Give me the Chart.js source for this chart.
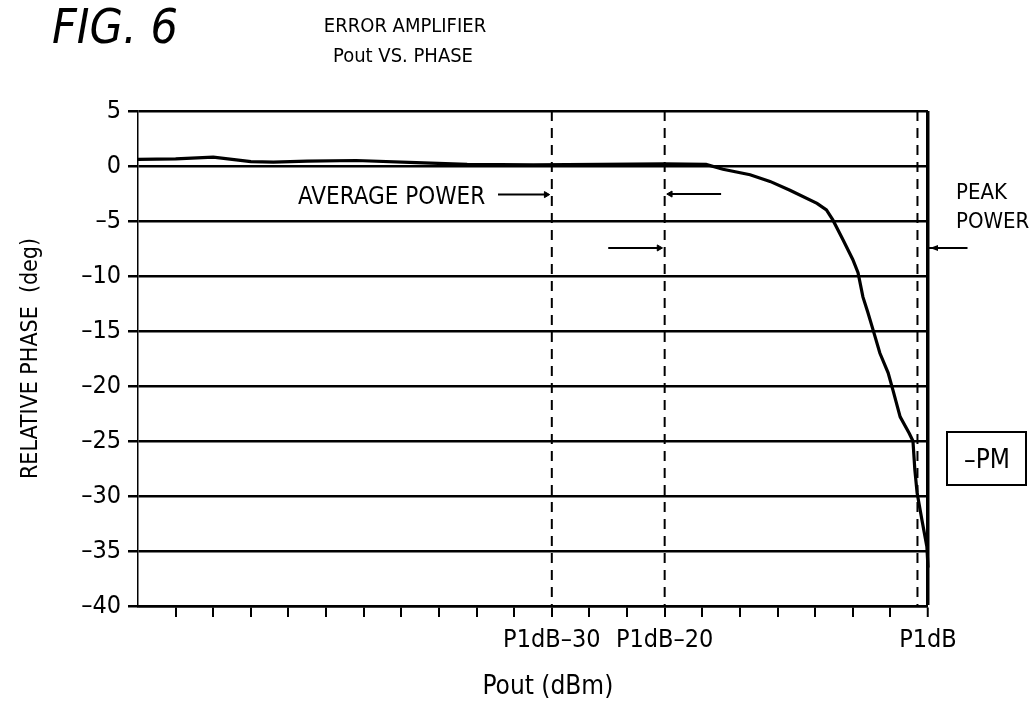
<!DOCTYPE html>
<html>
<head>
<meta charset="utf-8">
<script src="https://cdn.jsdelivr.net/npm/chart.js@4.4.1/dist/chart.umd.min.js"></script>
<style>
  html, body { margin: 0; padding: 0; background: #fff; }
  canvas { display: block; }
</style>
</head>
<body>
<canvas id="chart" width="1036" height="706"></canvas>
<script>
const FONT = "'DejaVu Sans Condensed', 'Liberation Sans Narrow', sans-serif";

// x runs in tick steps: 0 = left edge, 21 = P1dB
const tickLabels = { 11: "P1dB\u201330", 14: "P1dB\u201320", 21: "P1dB" };

// relative phase curve (-PM)
const pmX = [0, 1, 2, 3, 3.6, 4.5, 5.8, 7.4, 8.75, 10.5, 12.3, 14, 15.1, 15.55, 16.27, 16.8,
  17.33, 18.05, 18.3, 18.47, 18.74, 19.0, 19.14, 19.27, 19.4, 19.54, 19.72, 19.94, 20.07,
  20.26, 20.5, 20.6, 20.65, 20.71, 20.84, 20.97, 21];
const pmY = [0.6, 0.65, 0.8, 0.4, 0.35, 0.45, 0.5, 0.3, 0.15, 0.1, 0.15, 0.2, 0.15, -0.3, -0.8, -1.4,
  -2.2, -3.4, -4.0, -4.9, -6.7, -8.5, -9.7, -11.9, -13.3, -14.9, -17.0, -18.8, -20.4,
  -22.8, -24.3, -25, -27.6, -29.7, -32.2, -34.6, -36.5];

// dashed markers: average power range and peak power
const markerX = [11, 14, 20.72];
const markerY = [5, -40];

// arrows [x start, x tip], [y, y]
const avgArrowX = [9.57, 10.85];
const avgArrowY = [-2.6, -2.6];
const upperArrowX = [15.5, 14.15];
const upperArrowY = [-2.55, -2.55];
const lowerArrowX = [12.5, 13.85];
const lowerArrowY = [-7.45, -7.45];
const peakArrowX = [22.05, 21.0];
const peakArrowY = [-7.45, -7.45];

function pts(xs, ys) {
  return xs.map((x, i) => ({ x: x, y: ys[i] }));
}

function lineSet(xs, ys, extra) {
  return Object.assign({
    data: pts(xs, ys),
    borderColor: "#000",
    borderWidth: 2,
    pointRadius: 0,
    tension: 0,
    clip: false,
  }, extra);
}

function arrowSet(xs, ys, dir) {
  return lineSet(xs, ys, {
    borderWidth: 2,
    pointStyle: "triangle",
    pointRadius: [0, 3.5],
    pointRotation: [0, dir],
    pointBackgroundColor: "#000",
    pointBorderWidth: 1,
  });
}

const datasets = [
  lineSet(pmX, pmY, { label: "-PM", borderWidth: 3.2 }),
];
markerX.forEach(function (x) {
  datasets.push(lineSet([x, x], markerY, { borderWidth: 2, borderDash: [10, 7] }));
});
datasets.push(arrowSet(avgArrowX, avgArrowY, 90));
datasets.push(arrowSet(upperArrowX, upperArrowY, -90));
datasets.push(arrowSet(lowerArrowX, lowerArrowY, 90));
datasets.push(lineSet(peakArrowX, peakArrowY, { borderWidth: 2 }));

const paper = {
  id: "paper",
  beforeDraw(chart) {
    const c = chart.ctx;
    c.save();
    c.fillStyle = "#fff";
    c.fillRect(0, 0, chart.width, chart.height);
    c.restore();
  },
  afterDraw(chart) {
    const c = chart.ctx;
    const sx = chart.scales.x;
    const sy = chart.scales.y;
    c.save();
    c.fillStyle = "#000";
    c.strokeStyle = "#000";

    // arrow head of the peak power arrow sits outside the plot area
    const tx = sx.getPixelForValue(peakArrowX[1]) + 2;
    const ty = sy.getPixelForValue(peakArrowY[1]);
    c.beginPath();
    c.moveTo(tx, ty);
    c.lineTo(tx + 8, ty - 3);
    c.lineTo(tx + 8, ty + 3);
    c.closePath();
    c.fill();

    c.textBaseline = "alphabetic";
    c.textAlign = "left";
    c.font = "italic 48px " + FONT;
    c.fillText("FIG. 6", 52, 43);

    c.textAlign = "center";
    c.font = "20px " + FONT;
    c.fillText("ERROR AMPLIFIER", 405, 32);
    c.fillText("Pout VS. PHASE", 403, 62);

    c.textAlign = "left";
    c.font = "24px " + FONT;
    c.fillText("AVERAGE POWER", 298, 204);
    c.font = "22px " + FONT;
    c.fillText("PEAK", 956, 199);
    c.fillText("POWER", 956, 228);

    c.lineWidth = 2;
    c.strokeRect(947, 432, 79, 53);
    c.textAlign = "center";
    c.font = "26px " + FONT;
    c.fillText("\u2013PM", 987, 468);
    c.restore();
  },
};

new Chart(document.getElementById("chart"), {
  type: "line",
  data: { datasets: datasets },
  plugins: [paper],
  options: {
    responsive: false,
    animation: false,
    layout: { padding: { top: 111, right: 108, left: 0, bottom: 0 } },
    plugins: {
      legend: { display: false },
      tooltip: { enabled: false },
    },
    scales: {
      x: {
        type: "linear",
        min: 0,
        max: 21,
        afterFit: function (scale) { scale.height = 100; },
        border: { display: true, color: "#000", width: 2.5 },
        grid: {
          drawOnChartArea: true,
          color: (ctx) => (ctx.tick && ctx.tick.value === 21 ? "#000" : "rgba(0,0,0,0)"),
          lineWidth: (ctx) => (ctx.tick && ctx.tick.value === 21 ? 3.5 : 0),
          tickColor: (ctx) => (ctx.tick && ctx.tick.value === 0 ? "rgba(0,0,0,0)" : "#000"),
          tickWidth: 2,
          tickLength: 11,
        },
        ticks: {
          stepSize: 1,
          autoSkip: false,
          maxRotation: 0,
          padding: 8,
          color: "#000",
          font: { family: FONT, size: 25 },
          callback: (v) => tickLabels[Math.round(v)] || "",
        },
        title: {
          display: true,
          text: "    Pout (dBm)",
          color: "#000",
          font: { family: FONT, size: 26 },
          padding: { top: 0, bottom: 3 },
        },
      },
      y: {
        min: -40,
        max: 5,
        afterFit: function (scale) { scale.width = 138; },
        border: { display: true, color: "#000", width: 1.5 },
        grid: {
          color: "#000",
          lineWidth: 2.5,
          tickLength: 10,
        },
        ticks: {
          stepSize: 5,
          padding: 7,
          color: "#000",
          font: { family: FONT, size: 25 },
          callback: (v) => String(v).replace("-", "\u2013"),
        },
        title: {
          display: true,
          text: "RELATIVE PHASE  (deg)",
          color: "#000",
          font: { family: FONT, size: 23 },
          padding: { top: 17, bottom: 0 },
        },
      },
    },
  },
});
</script>
</body>
</html>
